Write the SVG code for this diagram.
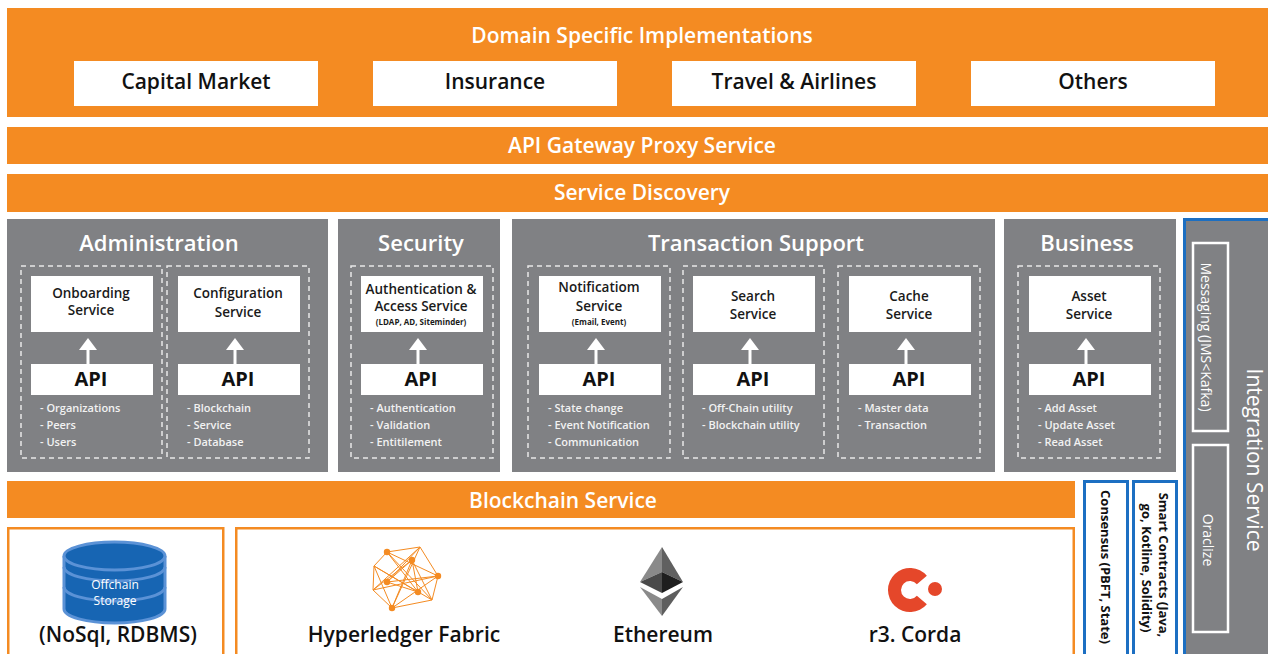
<svg xmlns="http://www.w3.org/2000/svg" width="1268" height="654" viewBox="0 0 1268 654">
<style>
.or{fill:#f48b22}
.gp{fill:#808184}
.wb{fill:#ffffff}
.dash{fill:none;stroke:#e8e8e8;stroke-width:1.5;stroke-dasharray:5 4}
text{font-family:"Open Sans","Liberation Sans",sans-serif}
.bt{fill:#ffffff;font-size:21px;font-weight:600;text-anchor:middle}
.dk{fill:#111111;font-size:21px;font-weight:600;text-anchor:middle}
.pt{fill:#ffffff;font-size:22px;font-weight:600;text-anchor:middle}
.sv{fill:#1a1a1a;font-size:13.5px;font-weight:600;text-anchor:middle}
.sm{fill:#1a1a1a;font-size:8px;font-weight:700;text-anchor:middle}
.api{fill:#111111;font-size:20px;font-weight:700;text-anchor:middle}
.li{fill:#f2f2f2;font-size:11px;font-weight:600}
.rt{fill:#ffffff;text-anchor:middle}
.rb{fill:#111111;font-size:13px;font-weight:700;text-anchor:middle}
.arr{stroke:#ffffff;stroke-width:3}
.ah{fill:#ffffff}
.of{fill:#ffffff;stroke:#f48b22;stroke-width:2.5}
.hl{fill:none;stroke:#f48b22;stroke-width:1}
.hd{fill:#f48b22}
</style>

<g id="domain">
<rect class="or" x="7" y="8" width="1261" height="109"/>
<text class="bt" x="642" y="43">Domain Specific Implementations</text>
</g>
<g id="capital-market"><rect class="wb" x="74" y="61" width="244" height="45"/><text class="dk" x="196" y="89">Capital Market</text></g>
<g id="insurance"><rect class="wb" x="373" y="61" width="244" height="45"/><text class="dk" x="495" y="89">Insurance</text></g>
<g id="travel"><rect class="wb" x="672" y="61" width="244" height="45"/><text class="dk" x="794" y="89">Travel &amp; Airlines</text></g>
<g id="others"><rect class="wb" x="971" y="61" width="244" height="45"/><text class="dk" x="1093" y="89">Others</text></g>

<g id="api-gateway"><rect class="or" x="7" y="127" width="1261" height="37"/><text class="bt" x="642" y="153">API Gateway Proxy Service</text></g>
<g id="service-discovery"><rect class="or" x="7" y="174" width="1261" height="38"/><text class="bt" x="642" y="200">Service Discovery</text></g>

<g id="administration">
<rect class="gp" x="7" y="219" width="321" height="253"/>
<text class="pt" x="159" y="251">Administration</text>
<rect class="dash" x="21" y="266" width="141" height="192"/>
<rect class="dash" x="167" y="266" width="142" height="192"/>
</g>
<g id="onboarding">
<rect class="wb" x="31" y="276" width="122" height="56"/>
<text class="sv" x="91" y="298">Onboarding</text><text class="sv" x="91" y="315">Service</text>
</g>
<g id="onboarding-api">
<rect class="wb" x="31" y="364" width="122" height="31"/><text class="api" x="91" y="386">API</text>
<text class="li" x="40" y="412">- Organizations</text><text class="li" x="40" y="429">- Peers</text><text class="li" x="40" y="446">- Users</text>
</g>
<g id="configuration">
<rect class="wb" x="178" y="276" width="122" height="56"/>
<text class="sv" x="238" y="298">Configuration</text><text class="sv" x="238" y="317">Service</text>
</g>
<g id="configuration-api">
<rect class="wb" x="178" y="364" width="122" height="31"/><text class="api" x="238" y="386">API</text>
<text class="li" x="187" y="412">- Blockchain</text><text class="li" x="187" y="429">- Service</text><text class="li" x="187" y="446">- Database</text>
</g>

<g id="security">
<rect class="gp" x="338" y="219" width="162" height="253"/>
<text class="pt" x="421" y="251">Security</text>
<rect class="dash" x="351" y="266" width="142" height="192"/>
</g>
<g id="auth">
<rect class="wb" x="361" y="276" width="122" height="56"/>
<text class="sv" x="421" y="294">Authentication &amp;</text><text class="sv" x="421" y="311">Access Service</text>
<text class="sm" x="421" y="325">(LDAP, AD, Siteminder)</text>
</g>
<g id="auth-api">
<rect class="wb" x="361" y="364" width="122" height="31"/><text class="api" x="421" y="386">API</text>
<text class="li" x="370" y="412">- Authentication</text><text class="li" x="370" y="429">- Validation</text><text class="li" x="370" y="446">- Entitilement</text>
</g>

<g id="transaction-support">
<rect class="gp" x="512" y="219" width="483" height="253"/>
<text class="pt" x="756" y="251">Transaction Support</text>
<rect class="dash" x="528" y="266" width="142" height="192"/>
<rect class="dash" x="683" y="266" width="141" height="192"/>
<rect class="dash" x="838" y="266" width="142" height="192"/>
</g>
<g id="notification">
<rect class="wb" x="539" y="276" width="122" height="56"/>
<text class="sv" x="599" y="292">Notificatiom</text><text class="sv" x="599" y="311">Service</text>
<text class="sm" x="599" y="325">(Email, Event)</text>
</g>
<g id="notification-api">
<rect class="wb" x="539" y="364" width="122" height="31"/><text class="api" x="599" y="386">API</text>
<text class="li" x="548" y="412">- State change</text><text class="li" x="548" y="429">- Event Notification</text><text class="li" x="548" y="446">- Communication</text>
</g>
<g id="search">
<rect class="wb" x="693" y="276" width="122" height="56"/>
<text class="sv" x="753" y="301">Search</text><text class="sv" x="753" y="319">Service</text>
</g>
<g id="search-api">
<rect class="wb" x="693" y="364" width="122" height="31"/><text class="api" x="753" y="386">API</text>
<text class="li" x="702" y="412">- Off-Chain utility</text><text class="li" x="702" y="429">- Blockchain utility</text>
</g>
<g id="cache">
<rect class="wb" x="849" y="276" width="122" height="56"/>
<text class="sv" x="909" y="301">Cache</text><text class="sv" x="909" y="319">Service</text>
</g>
<g id="cache-api">
<rect class="wb" x="849" y="364" width="122" height="31"/><text class="api" x="909" y="386">API</text>
<text class="li" x="858" y="412">- Master data</text><text class="li" x="858" y="429">- Transaction</text>
</g>

<g id="business">
<rect class="gp" x="1004" y="219" width="172" height="253"/>
<text class="pt" x="1087" y="251">Business</text>
<rect class="dash" x="1018" y="266" width="142" height="192"/>
</g>
<g id="asset">
<rect class="wb" x="1029" y="276" width="122" height="56"/>
<text class="sv" x="1089" y="301">Asset</text><text class="sv" x="1089" y="319">Service</text>
</g>
<g id="asset-api">
<rect class="wb" x="1029" y="364" width="122" height="31"/><text class="api" x="1089" y="386">API</text>
<text class="li" x="1038" y="412">- Add Asset</text><text class="li" x="1038" y="429">- Update Asset</text><text class="li" x="1038" y="446">- Read Asset</text>
</g>

<g id="integration-service">
<rect x="1184.5" y="219.5" width="100" height="440" fill="#808184" stroke="#1c6fc2" stroke-width="3"/>
<text class="rt" transform="translate(1247,460) rotate(90)" font-size="21">Integration Service</text>
</g>
<g id="messaging">
<rect x="1193" y="243" width="35" height="188" fill="#808184" stroke="#ffffff" stroke-width="2.5"/>
<text class="rt" transform="translate(1201,337) rotate(90)" font-size="14">Messaging (JMS&lt;Kafka)</text>
</g>
<g id="oraclize">
<rect x="1193" y="445" width="35" height="187" fill="#808184" stroke="#ffffff" stroke-width="2.5"/>
<text class="rt" transform="translate(1203,540) rotate(90)" font-size="14">Oraclize</text>
</g>

<g id="consensus">
<rect x="1084.5" y="481.5" width="43" height="180" fill="#ffffff" stroke="#1c6fc2" stroke-width="3"/>
<text class="rb" transform="translate(1101,567) rotate(90)">Consensus (PBFT, State)</text>
</g>
<g id="smart-contracts">
<rect x="1133.5" y="481.5" width="43" height="180" fill="#ffffff" stroke="#1c6fc2" stroke-width="3"/>
<text class="rb" transform="translate(1159,565) rotate(90)">Smart Contracts (Java,</text>
<text class="rb" transform="translate(1142,568) rotate(90)">go, Kotline, Solidity)</text>
</g>

<g id="blockchain-service"><rect class="or" x="7" y="481" width="1068" height="37"/><text class="bt" x="563" y="508">Blockchain Service</text></g>

<g id="offchain-storage">
<rect class="of" x="8.25" y="528.25" width="215" height="130"/>
<path d="M64,556 V609 A50.5,14 0 0 0 165,609 V556" fill="#1765b3" stroke="#5b92d6" stroke-width="3"/>
<ellipse cx="114.5" cy="556" rx="50.5" ry="14" fill="#1765b3" stroke="#5b92d6" stroke-width="3"/>
<path d="M64,567 A50.5,14 0 0 0 165,567 M64,587 A50.5,14 0 0 0 165,587" fill="none" stroke="#5b92d6" stroke-width="3"/>
<text x="115" y="589" fill="#ffffff" font-size="12" text-anchor="middle">Offchain</text>
<text x="115" y="605" fill="#ffffff" font-size="12" text-anchor="middle">Storage</text>
<text class="dk" x="118" y="642">(NoSql, RDBMS)</text>
</g>

<g id="platforms">
<rect class="of" x="236.25" y="528.25" width="837.5" height="130"/>
</g>
<g id="hyperledger">
<polygon class="hl" points="387,552 420,547 438,576 432,600 392,608 373,590 374,566"/>
<path class="hl" d="M387,552 L438,576 M387,552 L432,600 M387,552 L418,592 M420,547 L392,608 M420,547 L373,590 M420,547 L387,582 M438,576 L392,608 M438,576 L373,590 M438,576 L387,582 M432,600 L374,566 M432,600 L412,560 M392,608 L374,566 M392,608 L412,560 M373,590 L412,560 M374,566 L418,592 M387,582 L412,560 M412,560 L418,592 M387,582 L418,592"/>
<circle class="hd" cx="387" cy="552" r="3.2"/><circle class="hd" cx="412" cy="560" r="3.2"/><circle class="hd" cx="438" cy="576" r="3.2"/>
<circle class="hd" cx="387" cy="582" r="3.2"/><circle class="hd" cx="418" cy="592" r="3.2"/><circle class="hd" cx="392" cy="608" r="3.2"/>
<text class="dk" x="404" y="642">Hyperledger Fabric</text>
</g>
<g id="ethereum">
<polygon points="662,547 640,582 662,572" fill="#8a8a8a"/>
<polygon points="662,547 683,582 662,572" fill="#606060"/>
<polygon points="640,582 662,572 662,593" fill="#4a4a4a"/>
<polygon points="683,582 662,572 662,593" fill="#1e1e1e"/>
<polygon points="640,587 662,599 662,616" fill="#8a8a8a"/>
<polygon points="683,587 662,599 662,616" fill="#5e5e5e"/>
<text class="dk" x="663" y="642">Ethereum</text>
</g>
<g id="corda">
<path d="M926.85,575.86 A22,22 0 1 0 926.85,604.14 L916.89,595.79 A9,9 0 1 1 916.89,584.21 Z" fill="#e5472a"/>
<circle cx="935" cy="589" r="7" fill="#e5472a"/>
<text class="dk" x="915" y="642">r3. Corda</text>
</g>

<g id="connectors">
<line class="arr" x1="88" y1="364" x2="88" y2="349"/><polygon class="ah" points="79,350 97,350 88,338"/>
<line class="arr" x1="235" y1="364" x2="235" y2="349"/><polygon class="ah" points="226,350 244,350 235,338"/>
<line class="arr" x1="418" y1="364" x2="418" y2="349"/><polygon class="ah" points="409,350 427,350 418,338"/>
<line class="arr" x1="596" y1="364" x2="596" y2="349"/><polygon class="ah" points="587,350 605,350 596,338"/>
<line class="arr" x1="750" y1="364" x2="750" y2="349"/><polygon class="ah" points="741,350 759,350 750,338"/>
<line class="arr" x1="906" y1="364" x2="906" y2="349"/><polygon class="ah" points="897,350 915,350 906,338"/>
<line class="arr" x1="1086" y1="364" x2="1086" y2="349"/><polygon class="ah" points="1077,350 1095,350 1086,338"/>
</g>
</svg>
